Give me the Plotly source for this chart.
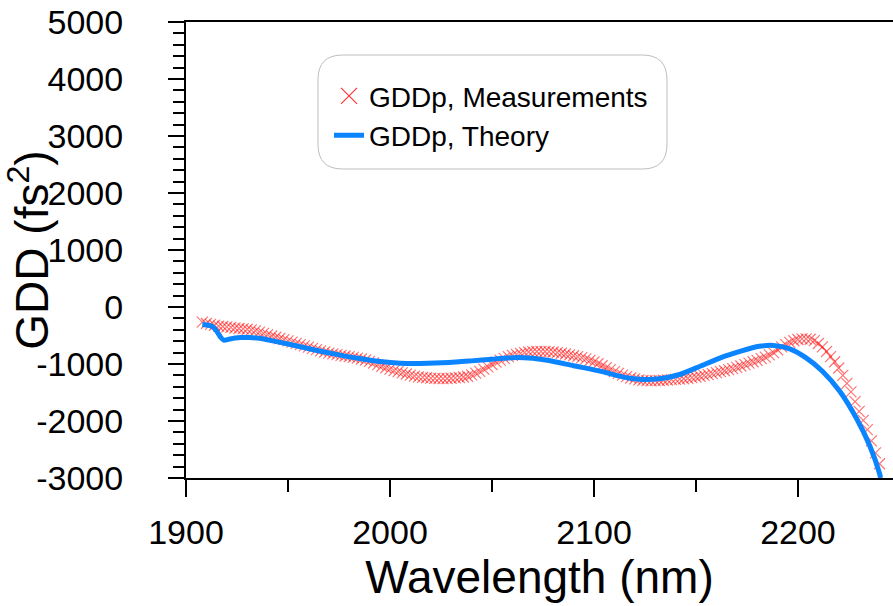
import plotly.graph_objects as go

# Measured GDD (every 2 nm)
meas_wl = list(range(1908, 2242, 2))
meas_gdd = [
    -265, -290, -305, -320, -335, -342, -350, -358, -368, -377,
    -383, -390, -402, -418, -440, -462, -485, -508, -530, -552,
    -573, -595, -615, -638, -660, -682, -705, -725, -748, -770,
    -790, -808, -822, -835, -848, -860, -870, -883, -897, -912,
    -930, -955, -982, -1010, -1040, -1065, -1090, -1115, -1135, -1155,
    -1175, -1195, -1212, -1225, -1235, -1242, -1247, -1252, -1255, -1256,
    -1254, -1250, -1244, -1237, -1228, -1215, -1190, -1160, -1128, -1090,
    -1050, -1008, -968, -932, -900, -872, -848, -830, -815, -800,
    -790, -784, -780, -779, -780, -784, -790, -800, -812, -825,
    -840, -855, -870, -887, -910, -938, -965, -995, -1030, -1065,
    -1100, -1135, -1165, -1195, -1222, -1245, -1262, -1278, -1288, -1293,
    -1295, -1293, -1290, -1285, -1280, -1275, -1270, -1265, -1258, -1250,
    -1240, -1228, -1215, -1200, -1185, -1170, -1152, -1135, -1118, -1100,
    -1080, -1058, -1035, -1010, -985, -960, -935, -905, -880, -840,
    -800, -750, -700, -660, -620, -592, -570, -560, -560, -565,
    -590, -640, -700, -780, -870, -960, -1070, -1200, -1340, -1490,
    -1660, -1830, -1990, -2150, -2350, -2560, -2750,
]

# Theory curve
theo_wl = [1908, 1911, 1913, 1915, 1917, 1918.5, 1921, 1924, 1927, 1931,
           1936, 1942, 1950, 1962, 1975, 1985, 1995, 2005, 2015, 2029,
           2040, 2050, 2062, 2070, 2078, 2090, 2103, 2114, 2122.5, 2132,
           2142, 2152, 2162, 2172, 2181, 2188, 2196, 2204, 2212, 2220.5,
           2229, 2235.3, 2240, 2240.5]
theo_gdd = [-307, -320, -345, -420, -530, -583, -565, -545, -535, -535,
            -550, -590, -650, -745, -840, -905, -955, -985, -990, -975,
            -945, -915, -885, -900, -940, -1030, -1125, -1225, -1268, -1258,
            -1184, -1040, -892, -775, -690, -675, -734, -892, -1126, -1477,
            -1974, -2442, -2921, -3000]

y_ticks = [-3000, -2000, -1000, 0, 1000, 2000, 3000, 4000, 5000]
y_ticktext = ["-3000", "-2000", "-1000", "0", "1000", "2000", "3000", "4000", "5000"]
x_ticks = [1900, 2000, 2100, 2200]
x_ticktext = ["1900", "2000", "2100", "2200"]

FONT = "Arial, Liberation Sans, sans-serif"
RED = "rgba(255,0,0,0.55)"

fig = go.Figure()
fig.add_trace(go.Scatter(
    x=meas_wl, y=meas_gdd, mode="markers", name="GDDp, Measurements",
    showlegend=False,
    marker=dict(symbol="x-thin", size=11, color=RED,
                line=dict(width=1.2, color=RED)),
))
# legend proxy with a larger cross
fig.add_trace(go.Scatter(
    x=[None], y=[None], mode="markers", name="GDDp, Measurements",
    marker=dict(symbol="x-thin", size=16, color="rgba(255,0,0,0.8)",
                line=dict(width=1.2, color="rgba(255,0,0,0.8)")),
))
fig.add_trace(go.Scatter(
    x=theo_wl, y=theo_gdd, mode="lines", name="GDDp, Theory",
    line=dict(color="#0a84ff", width=5, shape="spline", smoothing=0.6),
))

# rounded legend box (paper coords)
L, R, T, B = 0.1867, 0.6803, 0.9276, 0.6776
rx, ry = 0.035, 0.054
path = (f"M {L+rx},{B} L {R-rx},{B} Q {R},{B} {R},{B+ry} L {R},{T-ry} "
        f"Q {R},{T} {R-rx},{T} L {L+rx},{T} Q {L},{T} {L},{T-ry} "
        f"L {L},{B+ry} Q {L},{B} {L+rx},{B} Z")
fig.add_shape(type="path", path=path, xref="paper", yref="paper",
              line=dict(color="#bdbdbd", width=1), fillcolor="rgba(0,0,0,0)")

fig.update_layout(
    width=893, height=606, autosize=False,
    margin=dict(l=186, r=0, t=22, b=128),
    paper_bgcolor="white", plot_bgcolor="white",
    font=dict(family=FONT, color="black", size=34),
    showlegend=True,
    legend=dict(x=0.2023, y=0.892, xanchor="left", yanchor="top",
                bgcolor="rgba(0,0,0,0)", borderwidth=0,
                font=dict(size=28, family=FONT), tracegroupgap=0),
    xaxis=dict(
        range=[1900, 2246.6], tickvals=x_ticks, ticktext=x_ticktext,
        ticks="outside", ticklen=17,
        tickwidth=2, tickcolor="black", showline=True, linewidth=2,
        linecolor="black", mirror=True, showgrid=False, zeroline=False,
        automargin=False,
        minor=dict(dtick=50, tick0=1900, ticks="outside", ticklen=12,
                   tickwidth=1.5, tickcolor="black"),
        tickfont=dict(size=34), ticklabelstandoff=6,
        title=dict(text="Wavelength (nm)", font=dict(size=46), standoff=0),
    ),
    yaxis=dict(
        range=[-3000, 5000], tickvals=y_ticks, ticktext=y_ticktext,
        ticks="outside", ticklen=16,
        tickwidth=2, tickcolor="black", showline=True, linewidth=2,
        linecolor="black", showgrid=False, zeroline=False,
        automargin=False,
        minor=dict(dtick=200, tick0=0, ticks="outside", ticklen=11,
                   tickwidth=1.5, tickcolor="black"),
        tickfont=dict(size=34), ticklabelstandoff=38,
        title=dict(text="GDD (fs<sup>2</sup>)", font=dict(size=46), standoff=20),
    ),
)

fig.write_html(
    "out.html",
    config={"displayModeBar": False},
    post_script="document.body.style.margin='0';document.body.style.overflow='hidden';",
)
